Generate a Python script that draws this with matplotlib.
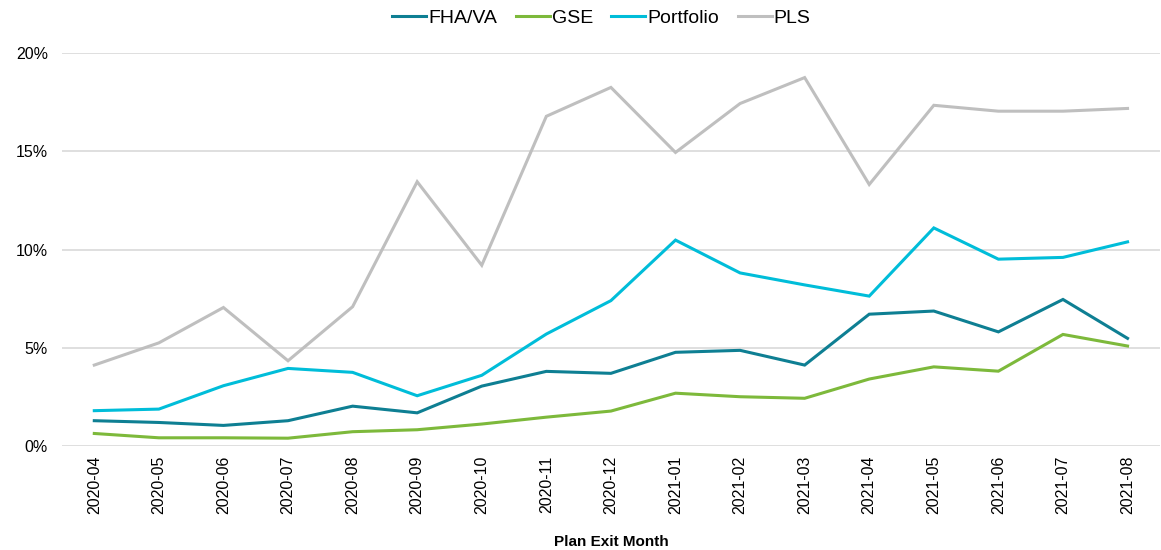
import numpy as np
import matplotlib
matplotlib.use('Agg')
import matplotlib.pyplot as plt
from matplotlib.ticker import FuncFormatter

months = ['2020-04', '2020-05', '2020-06', '2020-07', '2020-08', '2020-09',
          '2020-10', '2020-11', '2020-12', '2021-01', '2021-02', '2021-03',
          '2021-04', '2021-05', '2021-06', '2021-07', '2021-08']

fha_va = [1.29, 1.20, 1.05, 1.29, 2.03, 1.69, 3.05, 3.80, 3.70, 4.77, 4.87,
          4.12, 6.71, 6.87, 5.81, 7.46, 5.48]
gse = [0.64, 0.42, 0.42, 0.40, 0.73, 0.83, 1.12, 1.47, 1.78, 2.69, 2.51,
       2.43, 3.41, 4.03, 3.81, 5.68, 5.09]
portfolio = [1.80, 1.88, 3.07, 3.95, 3.75, 2.56, 3.60, 5.70, 7.40, 10.48, 8.81,
             8.20, 7.63, 11.10, 9.51, 9.60, 10.39]
pls = [4.12, 5.25, 7.05, 4.34, 7.09, 13.45, 9.20, 16.78, 18.25, 14.94, 17.43,
       18.75, 13.31, 17.34, 17.04, 17.04, 17.18]

series = [('FHA/VA', fha_va, '#0E7F93'),
          ('GSE', gse, '#7DB93B'),
          ('Portfolio', portfolio, '#00BDD9'),
          ('PLS', pls, '#BFBFBF')]

plt.rcParams['font.family'] = ['Liberation Sans', 'DejaVu Sans']

fig = plt.figure(figsize=(11.61, 5.5), dpi=100)
ax = fig.add_axes([0.0534, 0.189, 0.9456, 0.7146])

x = np.arange(len(months))
for name, vals, color in series:
    ax.plot(x, vals, color=color, lw=2.2, label=name, solid_joinstyle='miter')

# Axes styling
ax.set_xlim(-0.5, len(months) - 0.5)
ax.set_ylim(0, 20)
ax.set_yticks([0, 5, 10, 15, 20])
ax.yaxis.set_major_formatter(FuncFormatter(lambda v, p: '%d%%' % v))
ax.set_xticks(x)
ax.set_xticklabels(months, rotation=90)
ax.tick_params(axis='both', length=0, labelsize=11.5, colors='#000000')
ax.tick_params(axis='x', pad=7)
ax.tick_params(axis='y', pad=10)
ax.grid(axis='y', color='#D9D9D9', lw=1.2)
ax.set_axisbelow(True)
for s in ax.spines.values():
    s.set_visible(False)

ax.set_xlabel('Plan Exit Month', fontsize=11, fontweight='bold', labelpad=15)

# Legend
fig.legend(loc='center', bbox_to_anchor=(0.518, 0.967), ncol=4, frameon=False,
           fontsize=14, handlelength=1.75, handletextpad=0.1, columnspacing=0.95,
           borderaxespad=0.0)

plt.savefig('out.png', dpi=100)
